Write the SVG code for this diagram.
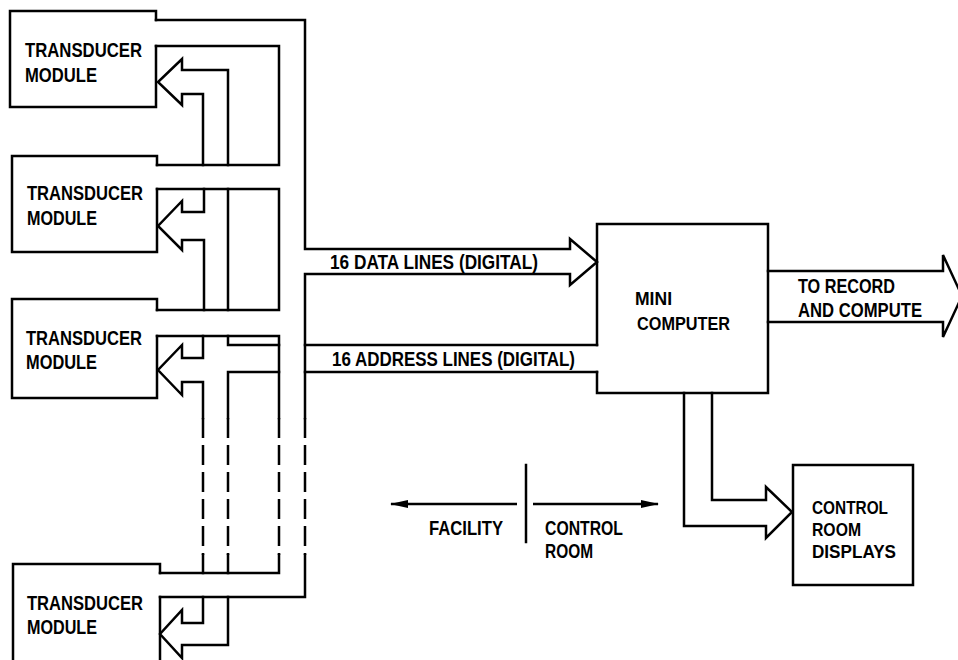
<svg xmlns="http://www.w3.org/2000/svg" width="958" height="660" viewBox="0 0 958 660">
<style>
.ln{fill:none;stroke:#000;stroke-width:2.5;stroke-linejoin:miter;stroke-linecap:square}
.ds{fill:none;stroke:#000;stroke-width:2.5;stroke-dasharray:20 7}
.t{font-family:"Liberation Sans",Arial,sans-serif;font-weight:bold;fill:#000;font-size:21px}
</style>
<defs>
<marker id="ah" viewBox="0 0 18 10" refX="17" refY="5" markerWidth="18" markerHeight="10" markerUnits="userSpaceOnUse" orient="auto">
<path d="M0,1 L18,5 L0,9 Z" fill="#000"/>
</marker>
</defs>
<rect width="958" height="660" fill="#fff"/>

<g id="module1">
<path class="ln" d="M156,20 V11 H10 V107 H156 V46"/>
<text class="t" x="25" y="57" textLength="117" lengthAdjust="spacingAndGlyphs">TRANSDUCER</text>
<text class="t" x="25" y="82" textLength="72" lengthAdjust="spacingAndGlyphs">MODULE</text>
</g>
<g id="module2">
<path class="ln" d="M157,165 V156 H12 V252 H157 V189"/>
<text class="t" x="27" y="200" textLength="116" lengthAdjust="spacingAndGlyphs">TRANSDUCER</text>
<text class="t" x="27" y="225" textLength="70" lengthAdjust="spacingAndGlyphs">MODULE</text>
</g>
<g id="module3">
<path class="ln" d="M157,310 V299 H12 V398 H157 V336"/>
<text class="t" x="26" y="345" textLength="116" lengthAdjust="spacingAndGlyphs">TRANSDUCER</text>
<text class="t" x="26" y="369" textLength="71" lengthAdjust="spacingAndGlyphs">MODULE</text>
</g>
<g id="module4">
<path class="ln" d="M160,573 V564 H13 V665 M160,597 V665"/>
<text class="t" x="27" y="610" textLength="116" lengthAdjust="spacingAndGlyphs">TRANSDUCER</text>
<text class="t" x="27" y="634" textLength="70" lengthAdjust="spacingAndGlyphs">MODULE</text>
</g>
<g id="minicomputer">
<path class="ln" d="M597,345 V224 H768 V393 H597 V372"/>
<text class="t" style="font-size:19px" x="635" y="305" textLength="37" lengthAdjust="spacingAndGlyphs">MINI</text>
<text class="t" style="font-size:19px" x="637" y="330" textLength="93" lengthAdjust="spacingAndGlyphs">COMPUTER</text>
</g>
<g id="displays">
<rect class="ln" x="793" y="465" width="120" height="120"/>
<text class="t" style="font-size:19px" x="812" y="514" textLength="76" lengthAdjust="spacingAndGlyphs">CONTROL</text>
<text class="t" style="font-size:19px" x="812" y="536" textLength="49" lengthAdjust="spacingAndGlyphs">ROOM</text>
<text class="t" style="font-size:19px" x="812" y="558" textLength="84" lengthAdjust="spacingAndGlyphs">DISPLAYS</text>
</g>

<g id="connectors">
<path class="ln" d="M156,20 H305 V249 H570 V239 L597,262 L570,285 V274 H305 V418"/>
<path class="ds" d="M305,418 V555"/>
<path class="ln" d="M305,555 V597 H160"/>
<path class="ln" d="M156,46 H279 V165 H157 M157,189 H279 V310 H157 M157,336 H279 V418"/>
<path class="ds" d="M279,418 V555"/>
<path class="ln" d="M279,555 V573 H160"/>
<path class="ln" d="M203,165 V94 H182 V105 L158,82 L182,59 V70 H228 V165"/>
<path class="ln" d="M204,189 V212 H182 V201 L158,226 L182,250 V240 H204 V310 M228,189 V310"/>
<path class="ln" d="M203,336 V358 H182 V345 L158,370 L182,395 V382 H203 V418 M228,336 V345 H279 M228,418 V372 H279"/>
<path class="ds" d="M203,418 V555 M228,418 V555"/>
<path class="ln" d="M203,555 V573 M228,555 V573"/>
<path class="ln" d="M203,597 V623 H182 V610 L160,634 L182,658 V645 H228 V597"/>
<path class="ln" d="M305,345 H597 M305,372 H597"/>
<text class="t" style="font-size:20px" x="330" y="269" textLength="208" lengthAdjust="spacingAndGlyphs">16 DATA LINES (DIGITAL)</text>
<text class="t" style="font-size:20px" x="332" y="366" textLength="243" lengthAdjust="spacingAndGlyphs">16 ADDRESS LINES (DIGITAL)</text>
<path class="ln" d="M768,271 H943 V255 L962,296 L943,337 V322 H768"/>
<text class="t" x="798" y="293" textLength="97" lengthAdjust="spacingAndGlyphs">TO RECORD</text>
<text class="t" x="798" y="317" textLength="124" lengthAdjust="spacingAndGlyphs">AND COMPUTE</text>
<path class="ln" d="M684,393 V526 H766 V538 L792,512 L766,487 V500 H712 V393"/>
<path class="ln" d="M526,465 V542"/>
<path fill="none" stroke="#000" stroke-width="2.5" d="M517,504 H391" marker-end="url(#ah)"/>
<path fill="none" stroke="#000" stroke-width="2.5" d="M533,504 H658" marker-end="url(#ah)"/>
<text class="t" x="429" y="535" textLength="74" lengthAdjust="spacingAndGlyphs">FACILITY</text>
<text class="t" x="545" y="535" textLength="78" lengthAdjust="spacingAndGlyphs">CONTROL</text>
<text class="t" x="545" y="558" textLength="48" lengthAdjust="spacingAndGlyphs">ROOM</text>
</g>
</svg>
